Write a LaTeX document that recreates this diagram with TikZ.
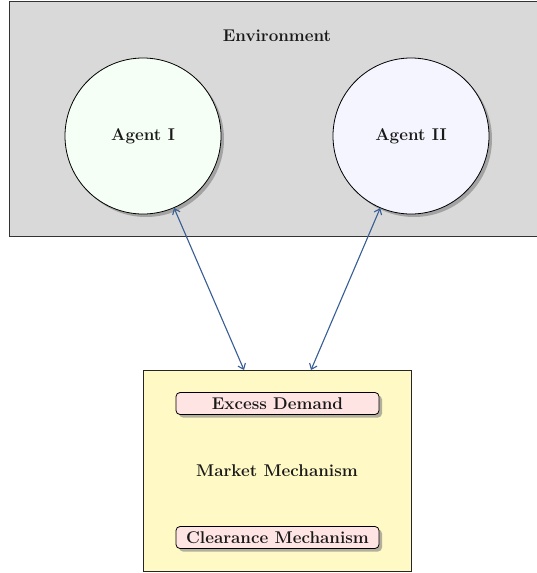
\documentclass[tikz,border=0pt]{standalone}
\usetikzlibrary{shadows,arrows.meta}
\definecolor{envgray}{RGB}{217,217,217}
\definecolor{agentone}{RGB}{245,255,245}
\definecolor{agenttwo}{RGB}{245,245,255}
\definecolor{marketyellow}{RGB}{255,249,198}
\definecolor{subpink}{RGB}{255,228,228}
\definecolor{linkblue}{RGB}{55,93,150}
\tikzset{
  lbl/.style={font=\fontsize{17}{20}\selectfont\bfseries, text=black!90},
  agentnode/.style={circle, draw=black, line width=0.8pt, minimum size=156pt, inner sep=0pt,
    drop shadow={shadow xshift=3pt, shadow yshift=-3pt, fill=black!50, opacity=0.6}, lbl},
  subbox/.style={rounded corners=4pt, draw=black, line width=0.8pt, fill=subpink,
    minimum width=203pt, minimum height=22pt, inner sep=0pt,
    drop shadow={shadow xshift=3pt, shadow yshift=-3pt, fill=black!50, opacity=0.6}, lbl},
  linkarrow/.style={draw=linkblue, line width=1.1pt, {Straight Barb[length=5pt,width=8pt]}-{Straight Barb[length=5pt,width=8pt]}}
}
\begin{document}
\begin{tikzpicture}[x=1pt,y=-1pt]
\useasboundingbox (0,0) rectangle (537,573);
\fill[white] (0,0) rectangle (537,573);
\draw[fill=envgray, line width=0.8pt, draw=black!80] (9,1.5) rectangle (545,236);
\node[lbl] (env) at (277,36) {Environment};
\node[agentnode, fill=agentone] (a1) at (143,136) {Agent I};
\node[agentnode, fill=agenttwo] (a2) at (411,136) {Agent II};
\draw[fill=marketyellow, line width=0.8pt, draw=black!85] (143.5,370) rectangle (411,571);
\coordinate (m1) at (244,370);
\coordinate (m2) at (311,370);
\node[lbl] (mm) at (277,471) {Market Mechanism};
\node[subbox] (ed) at (277.5,403.5) {Excess Demand};
\node[subbox] (cm) at (277.5,537.5) {Clearance Mechanism};
\draw[linkarrow] (a1) -- (m1);
\draw[linkarrow] (a2) -- (m2);
\end{tikzpicture}
\end{document}
